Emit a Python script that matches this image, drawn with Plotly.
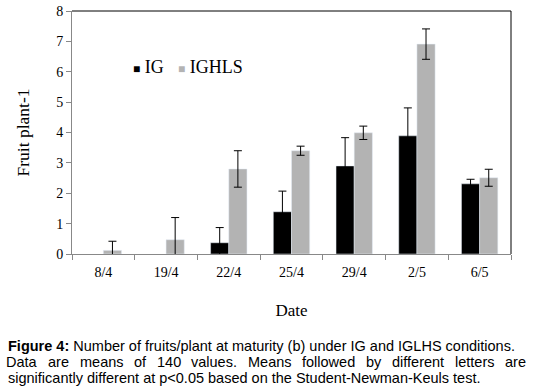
import plotly.graph_objects as go

dates = ["8/4", "19/4", "22/4", "25/4", "29/4", "2/5", "6/5"]
ig = [0, 0, 0.37, 1.39, 2.9, 3.89, 2.31]
ig_err = [0, 0, 0.5, 0.68, 0.93, 0.92, 0.15]
ighls = [0.12, 0.47, 2.8, 3.4, 3.99, 6.91, 2.51]
ighls_err = [0.3, 0.73, 0.6, 0.15, 0.22, 0.5, 0.28]
series_names = ["IG", "IGHLS"]
series_colors = ["black", "#b3b3b3"]

serif = "Liberation Serif"
sans = "Liberation Sans"

fig = go.Figure()
fig.add_trace(go.Bar(x=dates, y=[v if v > 0 else None for v in ig], name=series_names[0],
                     marker_color=series_colors[0],
                     error_y=dict(type="data", array=ig_err,
                                  color="black", thickness=1, width=4, visible=True)))
fig.add_trace(go.Bar(x=dates, y=ighls, name=series_names[1], marker_color=series_colors[1],
                     error_y=dict(type="data", array=ighls_err, color="black",
                                  thickness=1, width=4)))

fig.update_layout(
    width=534, height=391,
    margin=dict(l=72, r=23, t=11, b=137),
    paper_bgcolor="white", plot_bgcolor="white",
    barmode="group", bargap=0.42, bargroupgap=0,
    font=dict(family=serif, color="black", size=14),
    showlegend=False,
)
fig.update_xaxes(showline=True, linecolor="#888888", linewidth=1, automargin=False,
                 ticks="outside", tickson="boundaries", ticklen=5, tickcolor="#888888",
                 ticklabelstandoff=5,
                 tickfont=dict(family=serif, size=14),
                 title=dict(text="Date", font=dict(family=serif, size=17), standoff=25))
fig.update_yaxes(range=[0, 8], dtick=1, showline=True, linecolor="#888888", linewidth=1,
                 automargin=False,
                 ticks="outside", ticklen=5, tickcolor="#888888", showgrid=False,
                 zeroline=False, tickfont=dict(family=serif, size=14),
                 title=dict(text="Fruit plant-1", font=dict(family=serif, size=17.5), standoff=22))

# top and right frame
fig.add_shape(type="line", xref="paper", yref="paper", x0=0, x1=1, y0=1, y1=1,
              line=dict(color="black", width=1))
fig.add_shape(type="line", xref="paper", yref="paper", x0=1, x1=1, y0=0, y1=1,
              line=dict(color="black", width=1))

def px_x(px):
    return (px - 72) / (534 - 72 - 23)
def px_y(py):
    return (391 - 137 - py) / (391 - 137 - 11)

# legend (key) as text with square glyphs
for name, color, lx in zip(series_names, series_colors, [132, 177]):
    fig.add_annotation(xref="paper", yref="paper", x=px_x(lx), y=px_y(67),
                       xanchor="left", yanchor="middle", showarrow=False, borderpad=0,
                       text=f"<span style='color:{color};font-size:12px'>■</span> {name}",
                       font=dict(family=serif, size=18, color="black"))

# caption
cap_size = 14.5
cy = [346, 362, 378]
fig.add_annotation(xref="paper", yref="paper", x=px_x(7), y=px_y(cy[0]), xanchor="left",
                   yanchor="middle", showarrow=False, borderpad=0,
                   text="<b>Figure 4:</b> Number of fruits/plant at maturity (b) under IG and IGLHS conditions.",
                   font=dict(family=sans, size=cap_size, color="black"))

# justified second line: widths from Arial metrics
aw = {'D':722,'a':556,'t':278,'r':333,'e':556,'m':833,'n':556,'s':500,'o':556,'f':278,
      '1':556,'4':556,'0':556,'v':500,'l':222,'u':556,'.':278,'M':833,'w':722,'d':556,
      'b':556,'y':500,'i':222}
words = "Data are means of 140 values. Means followed by different letters are".split()
widths = [sum(aw.get(c, 556) for c in w) * cap_size / 1000 for w in words]
x_start, x_end = 7, 526
gap = (x_end - x_start - sum(widths)) / (len(words) - 1)
xp = x_start
for i, (w, wd) in enumerate(zip(words, widths)):
    fig.add_annotation(xref="paper", yref="paper",
                       x=px_x(xp + wd / 2), y=px_y(cy[1]),
                       xanchor="center",
                       yanchor="middle", showarrow=False, text=w, borderpad=0,
                       font=dict(family=sans, size=cap_size, color="black"))
    xp += wd + gap

fig.add_annotation(xref="paper", yref="paper", x=px_x(7), y=px_y(cy[2]), xanchor="left",
                   yanchor="middle", showarrow=False, borderpad=0,
                   text="significantly different at p<0.05 based on the Student-Newman-Keuls test.",
                   font=dict(family=sans, size=cap_size, color="black"))

fig.write_html("out.html", config={"displayModeBar": False},
               post_script="document.body.style.margin='0';")
